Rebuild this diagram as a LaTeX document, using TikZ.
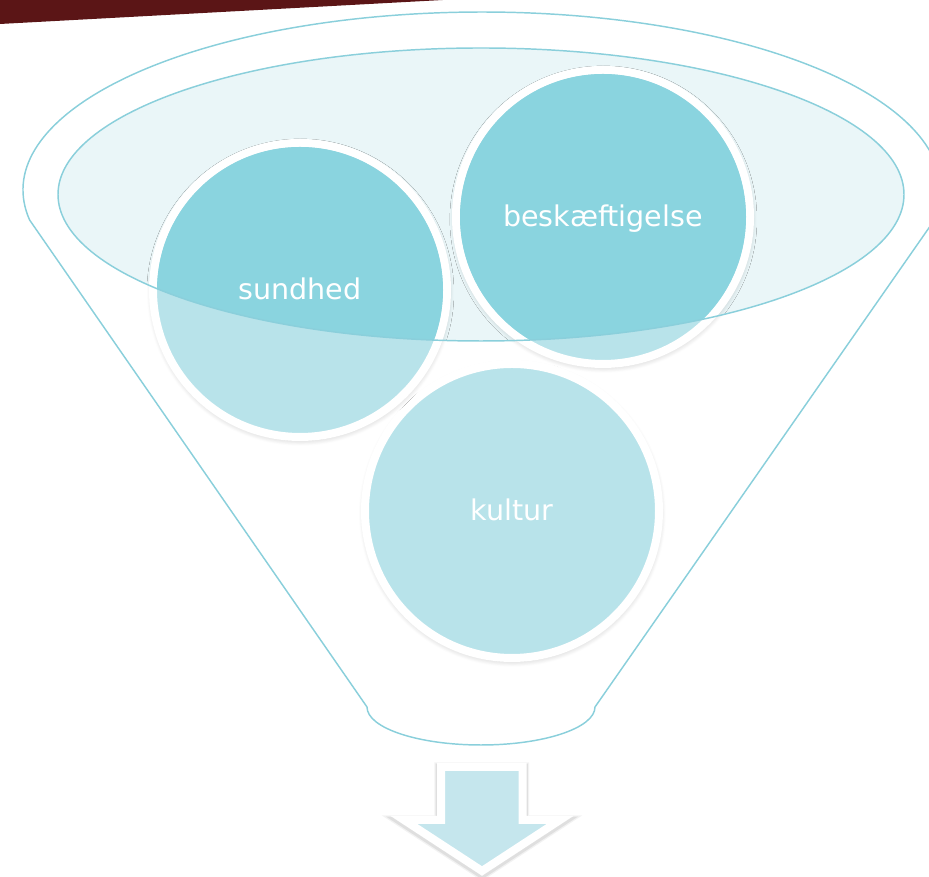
\documentclass[tikz,border=0pt]{standalone}
\usepackage{fontspec}
\setmainfont{DejaVu Sans}
\usetikzlibrary{shadows.blur}
\definecolor{funnelline}{HTML}{8ACFDB}
\definecolor{lensfill}{HTML}{EAF6F8}
\definecolor{ballfill}{HTML}{B8E3EA}
\definecolor{balldeep}{HTML}{8AD4DF}
\definecolor{arrowfill}{HTML}{C5E6ED}
\definecolor{slidebar}{HTML}{5B1516}
\tikzset{
  funnel/.style={draw=funnelline, line width=1.1pt},
  ball/.style={circle, draw=white, line width=6pt, fill=ballfill, inner sep=0pt,
    minimum size=220.5pt,
    blur shadow={shadow scale=1.008, shadow xshift=0.3pt, shadow yshift=-1.8pt,
      shadow blur radius=4pt, shadow blur steps=8, shadow opacity=22}},
  balltext/.style={text=white, anchor=base, yshift=-7.2pt,
    font=\fontsize{21.4pt}{25pt}\selectfont},
  arrowbox/.style={draw=white, line width=6pt, fill=arrowfill, line join=miter,
    preaction={draw=black, draw opacity=0.05, line width=10pt,
      transform canvas={yshift=-1.5pt}},
    preaction={draw=black, draw opacity=0.08, line width=8pt,
      transform canvas={yshift=-1.5pt}}}
}
\begin{document}
\begin{tikzpicture}[x=0.75pt, y=0.75pt]
  \useasboundingbox (0,0) rectangle (929,877);
  \clip (0,0) rectangle (929,877);
  \fill[slidebar] (0,877) -- (443,877) -- (0,853) -- cycle;
  \draw[funnel] (367,170) -- (29.6,657)
    arc[start angle=189.7, end angle=-9.7, x radius=459, y radius=178]
    -- (595,170)
    arc[start angle=0, end angle=-180, x radius=114, y radius=38] -- cycle;
  \fill[lensfill] (481,682.5) ellipse[x radius=423, y radius=146.5];
  \node[ball] (kultur) at (512,366) {};
  \node[ball] (sundhed) at (300,587) {};
  \node[ball] (beskaeftigelse) at (603,660) {};
  \begin{scope}
    \clip (481,682.5) ellipse[x radius=423, y radius=146.5];
    \foreach \b in {sundhed, beskaeftigelse}
      \fill[balldeep] (\b.center) circle[radius=143];
  \end{scope}
  \draw[funnel] (481,682.5) ellipse[x radius=423, y radius=146.5];
  \node[balltext] (sundhed text) at (sundhed.center) {sundhed};
  \node[balltext] (beskaeftigelse text) at (beskaeftigelse.center) {beskæftigelse};
  \node[balltext] (kultur text) at (kultur.center) {kultur};
  \draw[arrowbox] (441,110) -- (522.5,110) -- (522.5,57) -- (560,57)
    -- (482,6) -- (404,57) -- (441,57) -- cycle;
\end{tikzpicture}
\end{document}
